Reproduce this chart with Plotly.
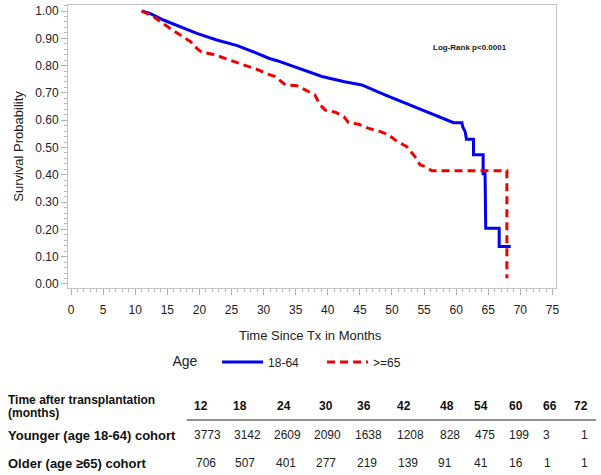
import plotly.graph_objects as go

# ---- Data ----
young_t = [11.0, 12.3, 14.4, 17.0, 19.6, 22.7, 25.9, 29.0, 30.8, 32.1, 35.5, 39.1, 42.6,
           45.3, 49.0, 52.1, 56.0, 59.6, 60.9, 61.0, 61.4, 61.6, 62.7, 62.7, 64.2, 64.2,
           64.5, 64.6, 66.7, 66.7, 68.5]
young_s = [1.000, 0.991, 0.967, 0.943, 0.918, 0.894, 0.873, 0.845, 0.827, 0.818, 0.790, 0.760, 0.741,
           0.729, 0.692, 0.662, 0.625, 0.591, 0.591, 0.577, 0.558, 0.530, 0.530, 0.473, 0.473, 0.404,
           0.404, 0.204, 0.204, 0.137, 0.137]

old_t = [11.0, 12.9, 15.0, 17.0, 18.6, 19.6, 20.4, 22.2, 24.8, 26.9, 29.2, 30.8, 31.8, 33.4,
         35.2, 36.5, 38.0, 38.8, 39.6, 41.2, 42.5, 43.2, 44.8, 46.4, 48.2, 49.5, 50.5, 52.3,
         53.6, 54.4, 55.2, 56.2, 67.9, 67.9]
old_s = [1.000, 0.979, 0.943, 0.912, 0.888, 0.863, 0.849, 0.841, 0.820, 0.802, 0.784, 0.768, 0.760, 0.729,
         0.726, 0.711, 0.692, 0.656, 0.637, 0.629, 0.613, 0.592, 0.585, 0.570, 0.558, 0.546, 0.527, 0.503,
         0.466, 0.436, 0.430, 0.415, 0.415, 0.021]

risk_times = ["12", "18", "24", "30", "36", "42", "48", "54", "60", "66", "72"]
risk_young = [3773, 3142, 2609, 2090, 1638, 1208, 828, 475, 199, 3, 1]
risk_old = [706, 507, 401, 277, 219, 139, 91, 41, 16, 1, 1]

# ---- Layout constants (pixels) ----
W, H = 601, 475
L, R, T, B = 68, 45, 5, 187
FONT = "Liberation Sans, Arial, sans-serif"

fig = go.Figure()
fig.add_trace(go.Scatter(x=young_t, y=young_s, mode="lines", name="18-64",
                         line=dict(color="#0000ee", width=3)))
fig.add_trace(go.Scatter(x=old_t, y=old_s, mode="lines", name=">=65",
                         line=dict(color="#ee0000", width=3, dash="8px,5px")))

fig.update_layout(
    width=W, height=H, margin=dict(l=L, r=R, t=T, b=B, autoexpand=False),
    paper_bgcolor="white", plot_bgcolor="white",
    font=dict(family=FONT, size=12, color="#222"),
    showlegend=True,
    legend=dict(orientation="h", x=170.5 / W, xref="container", xanchor="left",
                y=1 - 362 / H, yref="container", yanchor="middle",
                font=dict(size=12, family=FONT),
                title=dict(text="Age   ", font=dict(size=14)),
                itemwidth=41, entrywidth=49, entrywidthmode="pixels"),
)

fig.update_xaxes(range=[-0.47, 75.55], tickmode="array", tickvals=list(range(0, 80, 5)),
                 showgrid=False, zeroline=False, showline=True, linecolor="#c4c4c4", mirror=True,
                 ticks="outside", ticklen=6, tickcolor="#b0b0b0", automargin=False,
                 ticklabelstandoff=5,
                 minor=dict(dtick=1, ticks="outside", ticklen=3, tickcolor="#b8b8b8"),
                 tickfont=dict(size=12))
fig.update_yaxes(range=[-0.0147, 1.022], tickmode="array",
                 tickvals=[i / 10 for i in range(11)],
                 ticktext=[f"{i/10:.2f}" for i in range(11)],
                 showgrid=False, zeroline=False, showline=True, linecolor="#c4c4c4", mirror=True,
                 ticks="outside", ticklen=6, tickcolor="#b0b0b0", automargin=False,
                 minor=dict(dtick=0.02, ticks="outside", ticklen=3, tickcolor="#b8b8b8"),
                 tickfont=dict(size=12),
                 title=dict(text="Survival Probability", font=dict(size=13), standoff=8))

ph = H - T - B  # plot height in px


def py(ypix):
    """convert pixel y (from top of image) to paper coordinate"""
    return (H - B - ypix) / ph


def px(xpix):
    return (xpix - L) / (W - L - R)


def note(text, x, y, size, color="#222", xanchor="center"):
    return dict(text=text, x=px(x), y=py(y), xref="paper", yref="paper",
                xanchor=xanchor, yanchor="middle", showarrow=False,
                font=dict(size=size, family=FONT, color=color))


ann = [note("<b>Log-Rank p<0.0001</b>", 470, 48, 8),
       note("Time Since Tx in Months", 310.5, 335, 13)]

# risk table
ann.append(note("<b>Time after transplantation</b>", 5.5, 400, 12, "#111", "left"))
ann.append(note("<b>(months)</b>", 5.5, 413, 12, "#111", "left"))
ann.append(note("<b>Younger (age 18-64) cohort</b>", 5.5, 435, 13, "#111", "left"))
ann.append(note("<b>Older (age ≥65) cohort</b>", 5.5, 463, 13, "#111", "left"))

hdr_x = [200.5, 239.6, 283.6, 325.8, 364.1, 404.4, 446.5, 481, 515.5, 550, 580.7]
young_x = [207, 247.2, 287.5, 327.7, 368, 410, 450.4, 484.9, 519.4, 546.2, 584.5]
old_x = [206, 245, 285.5, 325.8, 367, 408, 444.6, 481, 515.5, 547.3, 584.5]
for i, lab in enumerate(risk_times):
    ann.append(note(f"<b>{lab}</b>", hdr_x[i], 406, 12, "#111"))
    ann.append(note(str(risk_young[i]), young_x[i], 435, 12))
    ann.append(note(str(risk_old[i]), old_x[i], 463, 12))

fig.update_layout(annotations=ann)
fig.add_shape(type="line", xref="paper", yref="paper", x0=px(186.7), x1=px(596), y0=py(420), y1=py(420),
              line=dict(color="#222", width=1))

fig.write_html("out.html", config={"displayModeBar": False},
               post_script="document.body.style.margin='0';document.body.style.overflow='hidden';")
